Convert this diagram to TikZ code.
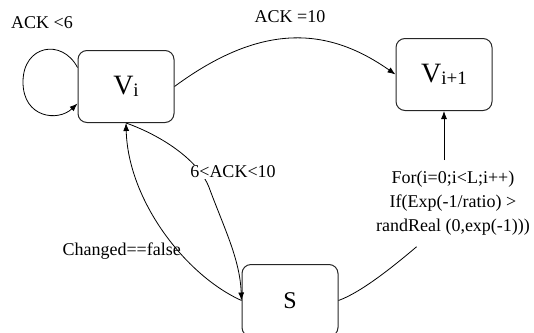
\documentclass[tikz,border=0pt]{standalone}
\usepackage{fontspec}
\setmainfont{Liberation Serif}
\usetikzlibrary{arrows.meta,positioning}
\newcommand{\statename}[1]{{\fontsize{28}{28}\selectfont V}\raisebox{-2pt}{\fontsize{19}{19}\selectfont #1}}

\begin{document}
\begin{tikzpicture}[
    x=1pt, y=-1pt,
    state/.style={rectangle,rounded corners=9pt,draw=black!85,line width=1pt,
      minimum width=96pt,minimum height=72pt,inner sep=0pt},
    lbl/.style={font=\fontsize{18}{24}\selectfont,inner sep=1pt},
    cond/.style={lbl,align=center,inner xsep=3pt,inner ysep=11pt},
    arrow/.style={-{Latex[length=8pt,width=6pt]},line width=0.8pt},
    edge/.style={line width=0.8pt}
  ]
    \useasboundingbox (0,0) rectangle (534,332);
    \node[state] (vi) at (126,86.5) {\statename{i}};
    \node[state] (vnext) at (444,74.5) {\statename{i+1}};
    \node[state,font=\fontsize{24}{24}\selectfont] (s) at (290,300.5) {S};
    \node[cond,below=49pt of vnext,xshift=9pt] (cond)
      {For(i=0;i<L;i++)\\If(Exp(-1/ratio) >\\randReal (0,exp(-1)))};

    % self loop
    \draw[arrow] ([yshift=19pt]vi.west) .. controls (62,38) and (23,45) .. (23,82)
      .. controls (23,118) and (58,122) .. ([yshift=-17pt]vi.west);
    \node[lbl] (acklow) at (42,23) {ACK <6};

    \draw[arrow] (vi.east) .. controls (262,22) and (328,27) .. (vnext.west);
    \node[lbl] (ackten) at (290,17) {ACK =10};

    \draw[arrow] (vi.south) .. controls (160,135) and (200,160) .. (210,190)
      .. controls (225,230) and (240,260) .. (s.west);
    \node[lbl,fill=white] (ackmid) at (233,172) {6<ACK<10};

    \draw[arrow] (s.west) .. controls (185,275) and (128,200) .. (vi.south);
    \node[lbl,anchor=east] (changed) at (182,251) {Changed==false};

    \draw[edge] (s.east) .. controls (362,292) and (395,265) .. (cond.230);
    \draw[arrow] (cond.north -| vnext.south) -- (vnext.south);
  \end{tikzpicture}
\end{document}
